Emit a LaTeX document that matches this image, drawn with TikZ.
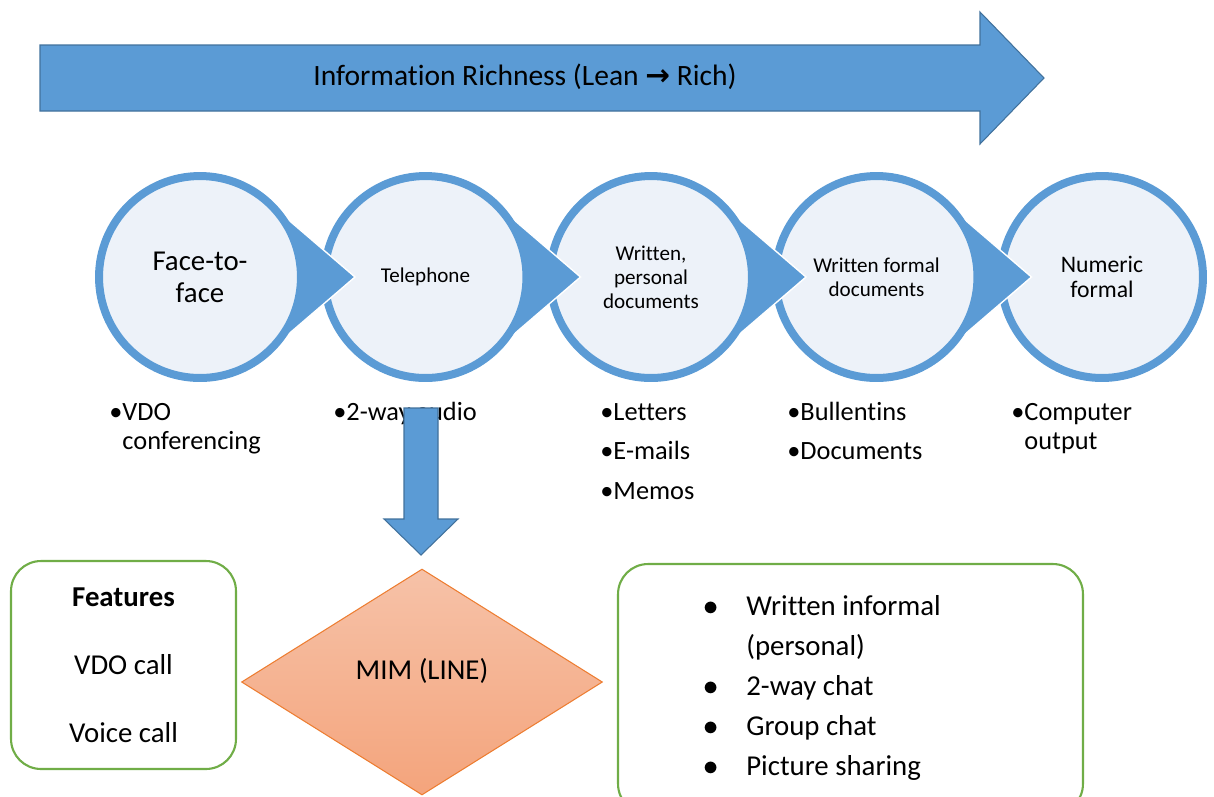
\documentclass[tikz,border=0pt]{standalone}
\usepackage{fontspec}
\setmainfont{Carlito}[Ligatures=NoCommon]
\newfontfamily\arrowfont{DejaVu Sans}
\usetikzlibrary{shapes.geometric,calc}
\definecolor{cblue}{HTML}{5B9BD5}
\definecolor{cbdark}{HTML}{41719C}
\definecolor{cpale}{HTML}{EDF2F9}
\definecolor{cgreen}{HTML}{70AD47}
\definecolor{corange}{HTML}{ED7D31}
\definecolor{cpeachtop}{HTML}{F6C2A8}
\definecolor{cpeachbot}{HTML}{F4A47C}

\begin{document}
\begin{tikzpicture}[
  x=0.02cm, y=-0.02cm,
  big/.style={font=\fontsize{16.4}{18.1}\selectfont},
  small/.style={font=\fontsize{12}{13.6}\selectfont},
  mid/.style={font=\fontsize{13.5}{14.7}\selectfont},
  circ/.style={circle, draw=cblue, fill=cpale, line width=0.16cm,
               minimum size=4.04cm, inner sep=0pt, align=center},
  chev/.style={fill=cblue, draw=white, line width=0.8pt},
  item/.style={font=\fontsize{15}{17}\selectfont, inner sep=0pt, anchor=base west},
  block/.style={fill=cblue, draw=cbdark, line width=0.6pt},
  greenbox/.style={draw=cgreen, line width=1.2pt, rounded corners=0.6cm, fill=white},
  mim/.style={diamond, draw=corange, line width=0.6pt,
              top color=cpeachtop, bottom color=cpeachbot,
              minimum width=7.22cm, minimum height=4.52cm, inner sep=0pt,
              text height=10pt, text depth=13pt},
]
\useasboundingbox (0,0) rectangle (1214,796);
\clip (0,0) rectangle (1214,796);

% ---- richness arrow ----
\draw[block] (40,45) -- (980,45) -- (980,12) -- (1044,78) -- (980,144) -- (980,111) -- (40,111) -- cycle;
\node[font=\fontsize{16.8}{18}\selectfont] (title) at (525,77)
  {Information Richness (Lean {\arrowfont\bfseries →} Rich)};

% ---- media circles (right to left: each tip lies over the next circle) ----
\coordinate (p1) at (200,277);
\coordinate (p2) at (425.5,277);
\coordinate (p3) at (651,277);
\coordinate (p4) at (876.5,277);
\coordinate (p5) at (1102,277);

\node[circ, mid] (c5) at (p5) {Numeric\\formal};
\filldraw[chev] ($(p4)+(49.3:101)$) -- ($(p4)+(155,0)$) -- ($(p4)+(-49.3:101)$) -- cycle;
\node[circ, small] (c4) at (p4) {Written formal\\documents};
\filldraw[chev] ($(p3)+(49.3:101)$) -- ($(p3)+(155,0)$) -- ($(p3)+(-49.3:101)$) -- cycle;
\node[circ, small] (c3) at (p3) {Written,\\personal\\documents};
\filldraw[chev] ($(p2)+(49.3:101)$) -- ($(p2)+(155,0)$) -- ($(p2)+(-49.3:101)$) -- cycle;
\node[circ, small] (c2) at (p2) {Telephone};
\filldraw[chev] ($(p1)+(49.3:101)$) -- ($(p1)+(155,0)$) -- ($(p1)+(-49.3:101)$) -- cycle;
\node[circ, big] (c1) at (p1) {Face-to-\\face};

% ---- examples under each medium ----
\node[item] (i1) at (109,420) {\begin{tabular}[t]{@{}l@{}l@{}}\textbullet&VDO\\&conferencing\end{tabular}};
\node[item] (i2) at (333,420) {\begin{tabular}[t]{@{}l@{}l@{}}\textbullet&2-way audio\end{tabular}};
\node[item] (i3) at (600,420) {\begin{tabular}[t]{@{}l@{}l@{}}\textbullet&Letters\\[5.7pt]\textbullet&E-mails\\[5.7pt]\textbullet&Memos\end{tabular}};
\node[item] (i4) at (787,420) {\begin{tabular}[t]{@{}l@{}l@{}}\textbullet&Bullentins\\[5.7pt]\textbullet&Documents\end{tabular}};
\node[item] (i5) at (1011,420) {\begin{tabular}[t]{@{}l@{}l@{}}\textbullet&Computer\\&output\end{tabular}};

% ---- telephone -> MIM ----
\draw[block] (404,408) -- (438,408) -- (438,519) -- (458,519) -- (421,555) -- (384,519) -- (404,519) -- cycle;

% ---- bottom row ----
\node[greenbox, big, align=center, minimum width=4.5cm, minimum height=4.16cm] (feat) at (123.5,665)
  {\textbf{Features}\\[20.6pt]VDO call\\[20.6pt]Voice call};
\node[mim, big] (mim) at (422,682) {MIM (LINE)};
\node[greenbox, minimum width=9.3cm, minimum height=5.0cm] (appbox) at (850.5,689) {};
\node[anchor=base west, inner sep=0pt, font=\fontsize{16.4}{22.8}\selectfont] (applist) at (703,615)
  {\begin{tabular}[t]{@{}p{0.86cm}@{}l@{}}
   $\bullet$ & Written informal\\
             & (personal)\\
   $\bullet$ & 2-way chat\\
   $\bullet$ & Group chat\\
   $\bullet$ & Picture sharing
   \end{tabular}};
\end{tikzpicture}
\end{document}
